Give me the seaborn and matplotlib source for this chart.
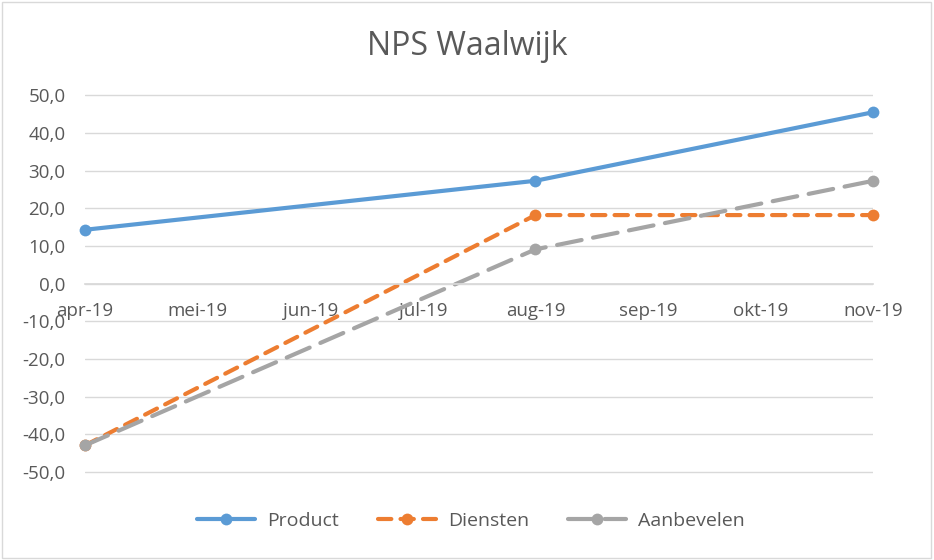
import matplotlib
matplotlib.use("Agg")
import matplotlib.pyplot as plt
import seaborn as sns
import pandas as pd
from matplotlib.patches import Rectangle

months = ["apr-19", "mei-19", "jun-19", "jul-19", "aug-19", "sep-19", "okt-19", "nov-19"]
measured_months = ["apr-19", "aug-19", "nov-19"]
product = [14.3, 27.3, 45.5]
diensten = [-42.9, 18.2, 18.2]
aanbevelen = [-42.9, 9.1, 27.3]
series_names = ["Product", "Diensten", "Aanbevelen"]
y_ticks = [50, 40, 30, 20, 10, 0, -10, -20, -30, -40, -50]

sns.set_theme(style="white")
plt.rcParams['font.family'] = ['Open Sans', 'DejaVu Sans']

rows = []
for name, vals in zip(series_names, [product, diensten, aanbevelen]):
    for m, v in zip(measured_months, vals):
        rows.append({"serie": name, "pos": months.index(m), "waarde": v})
df = pd.DataFrame(rows)

colors = {"Product": "#5B9BD5", "Diensten": "#ED7D31", "Aanbevelen": "#A5A5A5"}
dashes = {"Product": (None, None), "Diensten": (3.2, 2.2), "Aanbevelen": (6.0, 2.8)}

fig = plt.figure(figsize=(9.34, 5.60), dpi=100)
ax = fig.add_axes([0.091, 0.1536, 0.844, 0.6797])

for name in series_names:
    sub = df[df["serie"] == name]
    ls = "-" if name == "Product" else "--"
    sns.lineplot(data=sub, x="pos", y="waarde", ax=ax, color=colors[name],
                 linewidth=3.0, marker="o", markersize=8.5, markeredgewidth=0,
                 label=name, linestyle=ls, legend=False)
for ln, name in zip(ax.get_lines(), series_names):
    if name != "Product":
        ln.set_dashes(dashes[name])
    ln.set_solid_capstyle("round")
    ln.set_dash_capstyle("round")
    ln.set_clip_on(False)

ax.set_xlim(0, 7)
ax.set_ylim(-50.5, 50.5)
ax.set_yticks(y_ticks)
ax.set_yticklabels([f"{t:.1f}".replace(".", ",") for t in y_ticks])
ax.set_xticks(range(len(months)))
ax.set_xticklabels(months)
ax.grid(axis="y", color="#D9D9D9", linewidth=1.0)
ax.set_axisbelow(True)
for s in ["top", "right", "left"]:
    ax.spines[s].set_visible(False)
ax.spines["bottom"].set_position(("data", 0))
ax.spines["bottom"].set_color("#D9D9D9")
ax.tick_params(axis="x", length=0, pad=13, labelsize=13.5, labelcolor="#595959")
ax.tick_params(axis="y", length=0, pad=14, labelsize=13.5, labelcolor="#595959")
ax.set_xlabel("")
ax.set_ylabel("")

fig.text(0.5, 0.902, "NPS Waalwijk", ha="center", va="baseline", fontsize=23, color="#595959")

handles, labels = ax.get_legend_handles_labels()
fig.legend(handles, labels, loc="center", bbox_to_anchor=(0.504, 0.07), ncol=3,
           frameon=False, fontsize=14, labelcolor="#595959", handlelength=3.0,
           columnspacing=2.0, handletextpad=0.6)

fig.add_artist(Rectangle((0.002, 0.003), 0.995, 0.994, transform=fig.transFigure,
                         fill=False, edgecolor="#D9D9D9", linewidth=1.0))

fig.savefig("out.png", dpi=100)
